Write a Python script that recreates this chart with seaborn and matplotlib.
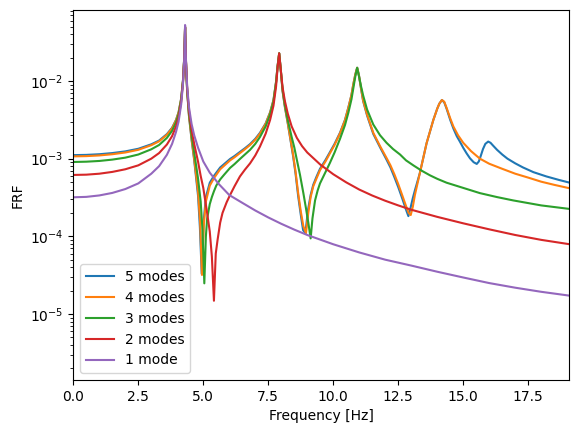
import pandas as pd
import matplotlib
matplotlib.use("Agg")
import matplotlib.pyplot as plt
import seaborn as sns

# values (frequency in Hz, FRF magnitude)
f_low = [0, 0.5, 1.0, 1.5, 2.0, 2.5, 3.0, 3.3, 3.6, 3.8, 3.95, 4.05, 4.15, 4.22, 4.27, 4.3]

f_5 = f_low + [4.33, 4.38, 4.45, 4.55, 4.65, 4.8, 4.87, 4.94, 5.01, 5.1, 5.25, 5.41, 5.65,
               5.8, 6.03, 6.2, 6.41, 6.6, 6.8, 7.0, 7.18, 7.4, 7.57, 7.7, 7.8, 7.86, 7.92,
               7.98, 8.05, 8.14, 8.25, 8.4, 8.46, 8.55, 8.65, 8.75, 8.84, 8.93, 9.02, 9.13,
               9.23, 9.35, 9.49, 9.7, 9.87, 10.05, 10.26, 10.45, 10.58, 10.7, 10.77, 10.85,
               10.92, 10.99, 11.07, 11.15, 11.3, 11.54, 11.8, 12.05, 12.2, 12.35, 12.5, 12.65,
               12.8, 12.89, 12.97, 13.06, 13.14, 13.33, 13.59, 13.85, 14.0, 14.08, 14.18,
               14.27, 14.36, 14.5, 14.62, 14.75, 14.87, 15.0, 15.13, 15.26, 15.4, 15.52, 15.6,
               15.68, 15.76, 15.85, 15.96, 16.05, 16.15, 16.3, 16.5, 16.7, 17.0, 17.3, 17.7,
               18.2, 18.7, 19.1]
frf_5 = [1.11e-3, 1.118e-3, 1.14e-3, 1.18e-3, 1.24e-3, 1.34e-3, 1.53e-3, 1.71e-3, 2.07e-3,
         2.5e-3, 3.15e-3, 3.96e-3, 5.96e-3, 1.03e-2, 2.08e-2, 5.0e-2,
         1.9e-2, 7.4e-3, 3.55e-3, 1.75e-3, 9.6e-4, 3.3e-4, 1.3e-4, 3.3e-5, 1.5e-4, 3.2e-4,
         4.9e-4, 6.0e-4, 7.7e-4, 8.5e-4, 9.9e-4, 1.08e-3, 1.22e-3, 1.36e-3, 1.54e-3, 1.8e-3,
         2.15e-3, 2.85e-3, 3.95e-3, 5.7e-3, 9.8e-3, 1.58e-2, 2.27e-2, 1.4e-2, 7.4e-3, 4.6e-3,
         2.85e-3, 1.4e-3, 1.05e-3, 6.4e-4, 3.3e-4, 1.9e-4, 1.2e-4, 1.1e-4, 2.1e-4, 3.4e-4,
         4.6e-4, 5.8e-4, 7.4e-4, 9.6e-4, 1.21e-3, 1.55e-3, 2.16e-3, 3.15e-3, 4.55e-3, 6.6e-3,
         9.0e-3, 1.22e-2, 1.48e-2, 1.17e-2, 7.9e-3, 5.5e-3, 3.6e-3, 2.08e-3, 1.4e-3, 9.7e-4,
         7.7e-4, 5.8e-4, 4.3e-4, 3.1e-4, 2.2e-4, 1.82e-4, 2.3e-4, 3.1e-4, 3.9e-4, 6.5e-4,
         1.58e-3, 3.15e-3, 4.4e-3, 5.1e-3, 5.69e-3, 5.3e-3, 4.4e-3, 3.15e-3, 2.45e-3, 1.95e-3,
         1.66e-3, 1.38e-3, 1.17e-3, 1.01e-3, 9.0e-4, 8.55e-4, 9.2e-4, 1.1e-3, 1.33e-3,
         1.55e-3, 1.66e-3, 1.6e-3, 1.47e-3, 1.3e-3, 1.13e-3, 1.0e-3, 8.7e-4, 7.7e-4, 6.7e-4,
         5.9e-4, 5.3e-4, 4.9e-4]

f_4 = f_low + [4.33, 4.38, 4.45, 4.55, 4.65, 4.8, 4.88, 4.95, 5.02, 5.1, 5.25, 5.41, 5.65,
               5.8, 6.03, 6.2, 6.41, 6.6, 6.8, 7.0, 7.18, 7.4, 7.57, 7.7, 7.8, 7.86, 7.92,
               7.98, 8.05, 8.14, 8.25, 8.4, 8.46, 8.55, 8.65, 8.75, 8.85, 8.95, 9.04, 9.13,
               9.23, 9.35, 9.49, 9.7, 9.87, 10.05, 10.26, 10.45, 10.58, 10.7, 10.77, 10.85,
               10.92, 10.99, 11.07, 11.15, 11.3, 11.54, 11.8, 12.05, 12.2, 12.35, 12.5, 12.65,
               12.8, 12.9, 12.98, 13.06, 13.14, 13.33, 13.59, 13.85, 14.0, 14.08, 14.18,
               14.27, 14.36, 14.5, 14.62, 14.8, 15.0, 15.3, 15.64, 16.0, 16.5, 17.0, 17.5,
               18.0, 18.5, 19.1]
frf_4 = [1.07e-3, 1.078e-3, 1.1e-3, 1.14e-3, 1.2e-3, 1.3e-3, 1.49e-3, 1.67e-3, 2.03e-3,
         2.46e-3, 3.11e-3, 3.92e-3, 5.92e-3, 1.02e-2, 2.07e-2, 5.0e-2,
         1.9e-2, 7.4e-3, 3.6e-3, 1.8e-3, 1.0e-3, 3.7e-4, 1.5e-4, 3.18e-5, 1.4e-4, 2.8e-4,
         4.5e-4, 5.6e-4, 7.3e-4, 8.1e-4, 9.5e-4, 1.04e-3, 1.18e-3, 1.32e-3, 1.5e-3, 1.75e-3,
         2.1e-3, 2.8e-3, 3.9e-3, 5.6e-3, 9.7e-3, 1.57e-2, 2.27e-2, 1.4e-2, 7.5e-3, 4.7e-3,
         2.9e-3, 1.45e-3, 1.1e-3, 6.8e-4, 3.6e-4, 2.1e-4, 1.35e-4, 1.1e-4, 2.0e-4, 3.2e-4,
         4.4e-4, 5.5e-4, 7.1e-4, 9.2e-4, 1.17e-3, 1.5e-3, 2.12e-3, 3.1e-3, 4.5e-3, 6.6e-3,
         9.0e-3, 1.22e-2, 1.48e-2, 1.17e-2, 8.0e-3, 5.6e-3, 3.7e-3, 2.15e-3, 1.45e-3, 1.02e-3,
         8.2e-4, 6.3e-4, 4.7e-4, 3.4e-4, 2.45e-4, 2.0e-4, 1.88e-4, 2.4e-4, 3.4e-4, 6.5e-4,
         1.58e-3, 3.15e-3, 4.4e-3, 5.1e-3, 5.69e-3, 5.4e-3, 4.5e-3, 3.3e-3, 2.6e-3, 2.0e-3,
         1.6e-3, 1.25e-3, 1.0e-3, 8.6e-4, 7.4e-4, 6.4e-4, 5.7e-4, 5.05e-4, 4.6e-4, 4.15e-4]

f_3 = f_low + [4.33, 4.38, 4.45, 4.55, 4.65, 4.8, 4.9, 4.97, 5.04, 5.1, 5.15, 5.25, 5.33,
               5.41, 5.5, 5.65, 5.8, 6.03, 6.2, 6.41, 6.6, 6.8, 7.0, 7.18, 7.4, 7.57, 7.7,
               7.8, 7.86, 7.92, 7.98, 8.05, 8.14, 8.25, 8.4, 8.5, 8.59, 8.72, 8.85, 8.95,
               9.04, 9.13, 9.2, 9.3, 9.4, 9.49, 9.7, 9.87, 10.05, 10.26, 10.45, 10.58, 10.7,
               10.77, 10.85, 10.92, 10.99, 11.07, 11.15, 11.3, 11.54, 11.8, 12.05, 12.3,
               12.57, 12.8, 13.08, 13.4, 13.72, 14.0, 14.36, 15.0, 15.64, 16.3, 16.92, 18.0,
               19.1]
frf_3 = [9.06e-4, 9.14e-4, 9.34e-4, 9.72e-4, 1.03e-3, 1.13e-3, 1.32e-3, 1.5e-3, 1.85e-3,
         2.28e-3, 2.93e-3, 3.74e-3, 5.74e-3, 1.0e-2, 2.05e-2, 4.9e-2,
         1.9e-2, 7.6e-3, 3.8e-3, 2.0e-3, 1.2e-3, 5.5e-4, 2.8e-4, 1.2e-4, 2.48e-5, 1.0e-4,
         1.7e-4, 2.6e-4, 3.2e-4, 3.8e-4, 4.5e-4, 5.4e-4, 6.2e-4, 7.6e-4, 8.5e-4, 9.9e-4,
         1.13e-3, 1.3e-3, 1.55e-3, 1.9e-3, 2.6e-3, 3.7e-3, 5.4e-3, 9.5e-3, 1.55e-2, 2.27e-2,
         1.4e-2, 7.8e-3, 4.9e-3, 3.15e-3, 1.9e-3, 1.4e-3, 1.0e-3, 6.2e-4, 3.6e-4, 2.3e-4,
         1.5e-4, 9.4e-5, 1.7e-4, 2.9e-4, 3.9e-4, 4.8e-4, 6.7e-4, 8.8e-4, 1.2e-3, 1.8e-3,
         2.7e-3, 3.9e-3, 5.8e-3, 8.0e-3, 1.15e-2, 1.48e-2, 1.15e-2, 8.5e-3, 6.5e-3, 4.3e-3,
         2.75e-3, 2.0e-3, 1.6e-3, 1.33e-3, 1.13e-3, 9.5e-4, 8.2e-4, 7.0e-4, 6.1e-4, 5.5e-4,
         4.9e-4, 4.2e-4, 3.6e-4, 3.2e-4, 2.9e-4, 2.5e-4, 2.25e-4]

f_2 = f_low + [4.33, 4.38, 4.45, 4.55, 4.65, 4.8, 4.9, 5.0, 5.13, 5.25, 5.33, 5.41, 5.48,
               5.55, 5.65, 5.74, 5.9, 6.03, 6.2, 6.41, 6.6, 6.8, 7.0, 7.18, 7.4, 7.57, 7.7,
               7.8, 7.86, 7.92, 7.98, 8.05, 8.14, 8.25, 8.4, 8.6, 8.8, 9.0, 9.5, 10.0, 10.5,
               11.0, 11.5, 12.0, 12.5, 13.0, 14.0, 15.0, 16.0, 17.0, 18.0, 19.1]
frf_2 = [6.17e-4, 6.22e-4, 6.4e-4, 6.75e-4, 7.3e-4, 8.2e-4, 1.0e-3, 1.18e-3, 1.52e-3,
         1.95e-3, 2.6e-3, 3.4e-3, 5.4e-3, 9.7e-3, 2.0e-2, 4.9e-2,
         1.95e-2, 8.0e-3, 4.15e-3, 2.35e-3, 1.55e-3, 9.1e-4, 6.0e-4, 4.2e-4, 2.2e-4, 1.15e-4,
         5.5e-5, 1.48e-5, 6e-5, 9e-5, 1.5e-4, 2.0e-4, 2.75e-4, 3.4e-4, 4.4e-4, 5.9e-4, 7.2e-4,
         8.7e-4, 1.1e-3, 1.43e-3, 2.1e-3, 3.15e-3, 4.8e-3, 8.5e-3, 1.5e-2, 2.27e-2, 1.4e-2,
         8.3e-3, 5.5e-3, 3.8e-3, 2.6e-3, 1.85e-3, 1.45e-3, 1.2e-3, 8.4e-4, 6.3e-4, 4.95e-4,
         4.0e-4, 3.35e-4, 2.87e-4, 2.5e-4, 2.2e-4, 1.78e-4, 1.47e-4, 1.23e-4, 1.04e-4, 9.0e-5,
         7.9e-5]

f_1 = f_low + [4.33, 4.38, 4.45, 4.55, 4.65, 4.8, 5.0, 5.25, 5.6, 6.0, 6.5, 7.0, 7.5, 8.0,
               8.5, 9.0, 10.0, 11.0, 12.0, 13.0, 14.0, 15.0, 16.0, 17.0, 18.0, 19.1]
frf_1 = [3.18e-4, 3.22e-4, 3.36e-4, 3.62e-4, 4.06e-4, 4.8e-4, 6.4e-4, 8.0e-4, 1.12e-3,
         1.55e-3, 2.2e-3, 3.0e-3, 5.0e-3, 9.3e-3, 2.0e-2, 5.26e-2,
         2.0e-2, 8.5e-3, 4.6e-3, 2.8e-3, 2.0e-3, 1.38e-3, 9.2e-4, 6.6e-4, 4.7e-4, 3.4e-4,
         2.7e-4, 2.15e-4, 1.75e-4, 1.45e-4, 1.22e-4, 1.04e-4, 7.9e-5, 6.2e-5, 5.0e-5, 4.2e-5,
         3.5e-5, 2.95e-5, 2.5e-5, 2.18e-5, 1.93e-5, 1.72e-5]

labels = ["5 modes", "4 modes", "3 modes", "2 modes", "1 mode"]
freqs = [f_5, f_4, f_3, f_2, f_1]
frfs = [frf_5, frf_4, frf_3, frf_2, frf_1]

colors = sns.color_palette("tab10")[:5]

fig = plt.figure(figsize=(5.78, 4.32), dpi=100)
ax = fig.add_axes([73.3 / 578, 1 - 380 / 432, 496 / 578, 370 / 432])

for lab, f, h, c in zip(labels, freqs, frfs, colors):
    df = pd.DataFrame({"freq": f, "frf": h})
    sns.lineplot(data=df, x="freq", y="frf", color=c, label=lab, ax=ax,
                 linewidth=1.5, sort=False)

ax.set_yscale("log")
ax.set_xlim(0, 19.08)
ax.set_ylim(10 ** -5.85, 10 ** -1.086)
ax.set_xlabel("Frequency [Hz]")
ax.set_ylabel("FRF")
ax.legend(loc="lower left")

fig.savefig("out.png", dpi=100)
